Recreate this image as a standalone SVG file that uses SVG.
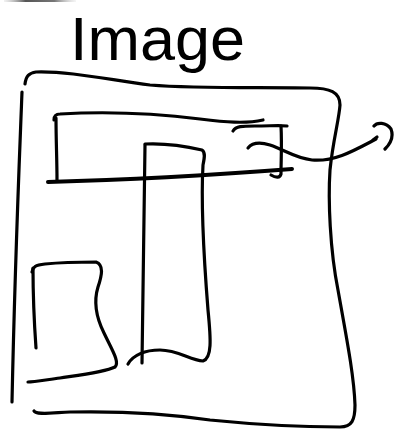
<svg xmlns="http://www.w3.org/2000/svg" width="394" height="430" viewBox="0 0 394 430">
<style>
.s{fill:none;stroke:#000;stroke-width:3.2;stroke-linecap:round;stroke-linejoin:round}
.t{stroke-width:4}
.lbl{font-family:"Liberation Sans",Arial,sans-serif;font-size:62px;fill:#000}
</style>
<defs>
<linearGradient id="gb" x1="0" x2="1" y1="0" y2="0">
<stop offset="0" stop-color="#bbb" stop-opacity="0.2"/>
<stop offset="0.3" stop-color="#555"/>
<stop offset="0.7" stop-color="#777"/>
<stop offset="1" stop-color="#ccc" stop-opacity="0.2"/>
</linearGradient>
</defs>
<rect x="4" y="0" width="72" height="2" fill="url(#gb)"/>
<g id="label">
<text class="lbl" x="70" y="60" textLength="175" lengthAdjust="spacingAndGlyphs">Image</text>
</g>
<g id="frame">
<path class="s" d="M25,84 C26,76 29,73 36,72 C70,71 110,80 150,85 C200,89 260,87 310,88 C330,88 340,92 340,105 C339,120 333,140 330,170 C328,200 330,250 338,290 C346,335 354,375 355,405 C355,420 352,427 340,427 C300,427 260,425 210,420 C170,414 120,411 70,412 C50,413 36,415 34,411"/>
<path class="s" d="M22,92 C19,170 15,260 12,402"/>
</g>
<g id="wide-box">
<path class="s" d="M54,120 C54,116 56,114 60,114 C110,111 160,114 200,119 C225,122 245,124 263,120"/>
<path class="s" d="M233,131 C236,126 242,126 255,126 C270,126 280,125 287,126"/>
<path class="s" d="M56,118 C56,140 57,160 57,180"/>
<path class="s" d="M281,126 C282,145 281,160 281,174 C280,178 276,178 271,175"/>
<path class="s t" d="M48,182 C120,180 200,176 292,169"/>
</g>
<g id="tall-box">
<path class="s" d="M145,145 C145,180 144,260 142,363"/>
<path class="s" d="M145,144 C165,143 185,146 202,150 C205,152 205,156 203,165 C201,200 204,260 208,310 C211,340 212,358 203,361 C190,360 178,350 160,350 C145,350 133,355 128,364"/>
</g>
<g id="small-box">
<path class="s" d="M33,268 C33,290 34,320 36,348"/>
<path class="s" d="M32,272 C33,267 35,265 45,264 C65,262 85,262 96,262 C104,265 102,275 98,287 C94,300 95,315 104,333 C112,350 120,362 115,367 C105,372 80,375 60,378 C45,380 33,382 28,382"/>
</g>
<g id="connectors">
<path class="s" d="M248,148 C252,143 260,142 270,145 C285,150 295,158 312,160 C335,162 355,150 376,139"/>
<path class="s" d="M373,140 L377,137"/>
<path class="s" d="M374,126 C377,122 386,122 391,129 C394,137 390,144 385,149"/>
</g>
</svg>
